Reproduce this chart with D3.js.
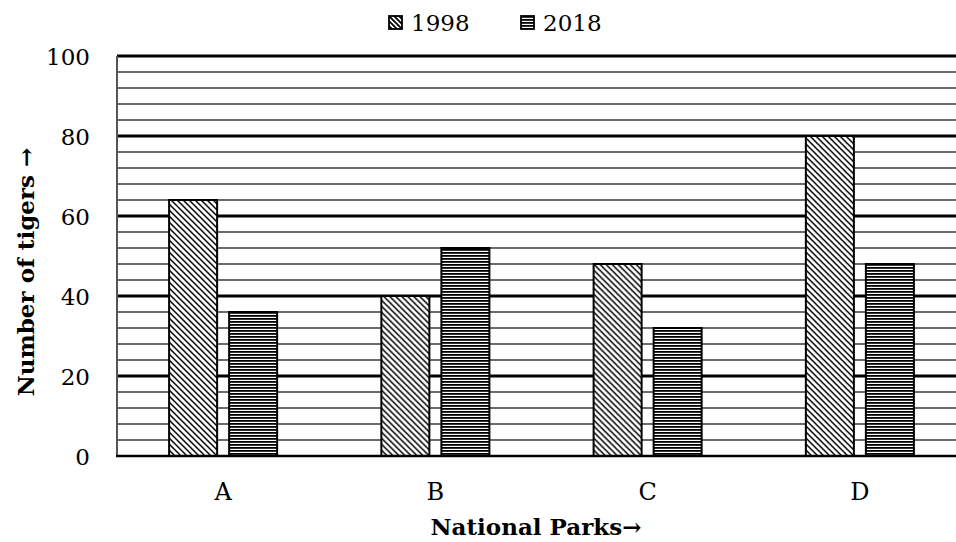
<!DOCTYPE html>
<html>
<head>
<meta charset="utf-8">
<script src="https://cdn.jsdelivr.net/npm/d3@7"></script>
<style>
  html, body { margin: 0; padding: 0; background: #fff; }
  svg { display: block; }
  text { font-family: "DejaVu Serif", "Liberation Serif", serif; fill: #000; }
</style>
</head>
<body>
<svg id="chart" width="956" height="542"></svg>
<script>
const categories = ["A", "B", "C", "D"];
const seriesNames = ["1998", "2018"];
const values1998 = [64, 40, 48, 80];
const values2018 = [36, 52, 32, 48];
const yTickValues = [0, 20, 40, 60, 80, 100];
const yMinorStep = 4;
const xTitle = "National Parks\u2192";
const yTitle = "Number of tigers \u2192";

const svg = d3.select("#chart");
const W = 956, H = 542;
const plot = { left: 117, top: 56, right: 966, bottom: 456 };

const defs = svg.append("defs");
// 1998: dense diagonal hatch
const p1 = defs.append("pattern").attr("id", "pat1998")
  .attr("patternUnits", "userSpaceOnUse").attr("width", 6).attr("height", 6);
p1.append("rect").attr("width", 6).attr("height", 6).attr("fill", "#fff");
p1.append("path").attr("d", "M-1,-1 L7,7 M-4,2 L1,7 M5,-1 L7,1")
  .attr("stroke", "#000").attr("stroke-width", 1.5);
// 2018: horizontal lines
const p2 = defs.append("pattern").attr("id", "pat2018")
  .attr("patternUnits", "userSpaceOnUse").attr("width", 6).attr("height", 3);
p2.append("rect").attr("width", 6).attr("height", 3).attr("fill", "#fff");
p2.append("rect").attr("y", 0).attr("width", 6).attr("height", 1.8).attr("fill", "#000");
// legend swatch pattern (coarser)
const p3 = defs.append("pattern").attr("id", "leg1998")
  .attr("patternUnits", "userSpaceOnUse").attr("width", 5).attr("height", 5);
p3.append("rect").attr("width", 5).attr("height", 5).attr("fill", "#fff");
p3.append("path").attr("d", "M-1,-1 L6,6 M-4,1 L1,6 M4,-1 L6,1")
  .attr("stroke", "#000").attr("stroke-width", 1.8);

const y = d3.scaleLinear().domain([0, 100]).range([plot.bottom, plot.top]);
const x = d3.scaleBand().domain(categories).range([plot.left, plot.right])
  .paddingInner(0.491).paddingOuter(0.2455);
const xs = d3.scaleBand().domain(seriesNames).range([0, x.bandwidth()]).paddingInner(0.2);

// minor gridlines
const minor = d3.range(0, 101, yMinorStep).filter(v => !yTickValues.includes(v));
svg.append("g").selectAll("line").data(minor).join("line")
  .attr("x1", plot.left).attr("x2", W)
  .attr("y1", d => y(d)).attr("y2", d => y(d))
  .attr("stroke", "#3a3a3a").attr("stroke-width", 1.5);
// major gridlines
svg.append("g").selectAll("line").data(yTickValues.filter(v => v > 0)).join("line")
  .attr("x1", plot.left).attr("x2", W)
  .attr("y1", d => y(d)).attr("y2", d => y(d))
  .attr("stroke", "#000").attr("stroke-width", 3);

// left axis line
svg.append("line").attr("x1", plot.left).attr("x2", plot.left)
  .attr("y1", plot.top).attr("y2", plot.bottom)
  .attr("stroke", "#555").attr("stroke-width", 2);

// bars
const data = categories.map((c, i) => ({ c, vals: [
  { s: "1998", v: values1998[i] }, { s: "2018", v: values2018[i] }] }));
const g = svg.append("g").selectAll("g").data(data).join("g")
  .attr("transform", d => `translate(${x(d.c)},0)`);
g.selectAll("rect").data(d => d.vals).join("rect")
  .attr("x", d => xs(d.s)).attr("width", xs.bandwidth())
  .attr("y", d => y(d.v)).attr("height", d => y(0) - y(d.v))
  .attr("fill", d => d.s === "1998" ? "url(#pat1998)" : "url(#pat2018)")
  .attr("stroke", "#000").attr("stroke-width", 2);

// bottom axis line
svg.append("line").attr("x1", plot.left - 1).attr("x2", W)
  .attr("y1", plot.bottom).attr("y2", plot.bottom)
  .attr("stroke", "#000").attr("stroke-width", 2.5);

// y axis labels
const yAxis = d3.axisLeft(y).tickValues(yTickValues).tickSize(0).tickPadding(27);
const ya = svg.append("g").attr("transform", `translate(${plot.left},0)`).call(yAxis);
ya.select(".domain").remove();
ya.selectAll("text").attr("font-family", "DejaVu Serif").attr("font-size", 23).attr("dy", "0.36em");

// x axis labels
const xAxis = d3.axisBottom(x).tickSize(0).tickPadding(27);
const xa = svg.append("g").attr("transform", `translate(0,${plot.bottom})`).call(xAxis);
xa.select(".domain").remove();
xa.selectAll("text").attr("font-family", "DejaVu Serif").attr("font-size", 24);

// axis titles
svg.append("text").attr("x", 536).attr("y", 535).attr("text-anchor", "middle")
  .attr("font-weight", "bold").attr("font-size", 23).text(xTitle);
svg.append("text").attr("transform", "translate(34,272) rotate(-90)")
  .attr("text-anchor", "middle").attr("font-weight", "bold").attr("font-size", 23).text(yTitle);

// legend
const legendItems = [
  { name: seriesNames[0], fill: "url(#leg1998)", x: 389 },
  { name: seriesNames[1], fill: "url(#pat2018)", x: 521 }
];
const lg = svg.append("g").selectAll("g").data(legendItems).join("g")
  .attr("transform", d => `translate(${d.x},16)`);
lg.append("rect").attr("width", 13).attr("height", 13)
  .attr("fill", d => d.fill).attr("stroke", "#000").attr("stroke-width", 1.8);
lg.append("text").attr("x", 22).attr("y", 15).attr("font-size", 23).text(d => d.name);
</script>
</body>
</html>
